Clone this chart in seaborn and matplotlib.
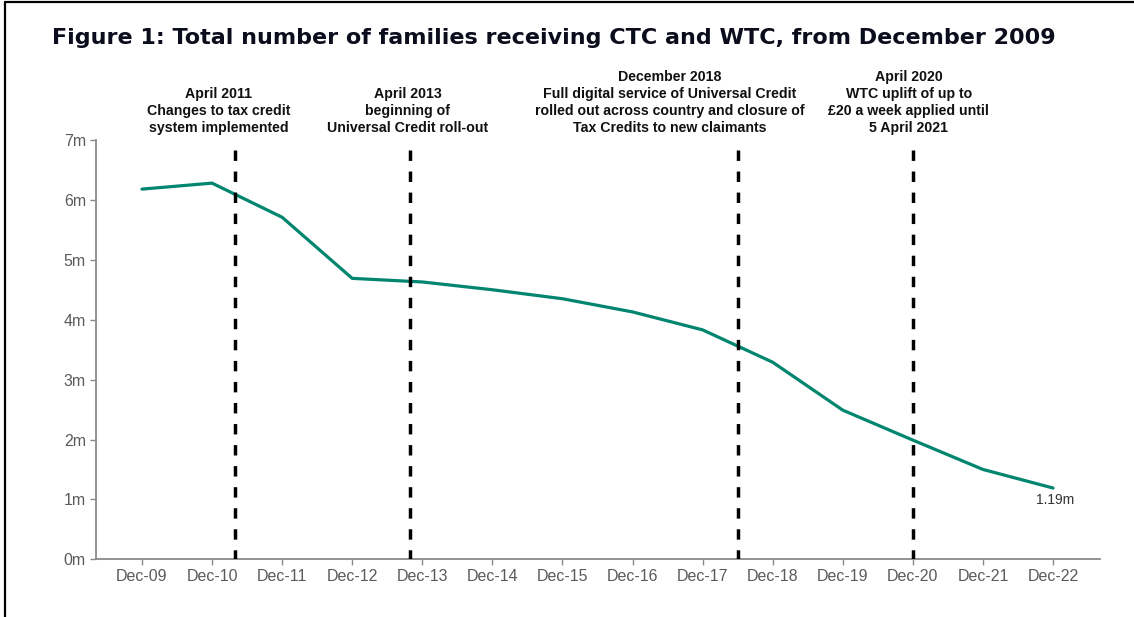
import numpy as np
import pandas as pd
import matplotlib
matplotlib.use("Agg")
import matplotlib.pyplot as plt
import matplotlib.transforms as mtransforms
from matplotlib.lines import Line2D
import seaborn as sns

# ---- data ----
months = ["Dec-09", "Dec-10", "Dec-11", "Dec-12", "Dec-13", "Dec-14", "Dec-15",
          "Dec-16", "Dec-17", "Dec-18", "Dec-19", "Dec-20", "Dec-21", "Dec-22"]
families_m = [6.18, 6.28, 5.71, 4.69, 4.63, 4.50, 4.35,
              4.13, 3.83, 3.29, 2.49, 1.99, 1.50, 1.19]
event_pos = [1.33, 3.83, 8.5, 11.0]
event_texts = [
    "April 2011\nChanges to tax credit\nsystem implemented",
    "April 2013\nbeginning of\nUniversal Credit roll-out",
    "December 2018\nFull digital service of Universal Credit\nrolled out across country and closure of\nTax Credits to new claimants",
    "April 2020\nWTC uplift of up to\n\u00a320 a week applied until\n5 April 2021",
]
y_ticks = [0, 1, 2, 3, 4, 5, 6, 7]
y_tick_labels = ["0m", "1m", "2m", "3m", "4m", "5m", "6m", "7m"]
end_label = "1.19m"
title = "Figure 1: Total number of families receiving CTC and WTC, from December 2009"

# layout: horizontal centre of each annotation block (axis units)
text_centres = [1.09, 3.79, 7.53, 10.94]

df = pd.DataFrame({"pos": np.arange(len(months)), "value": families_m})

sns.set_theme(style="ticks")
plt.rcParams["font.family"] = ["Liberation Sans", "DejaVu Sans"]

fig = plt.figure(figsize=(11.34, 6.17), dpi=100)
ax = fig.add_axes([0.0844, 0.0935, 0.970 - 0.0844, 0.7731 - 0.0935])

teal = "#00856F"
sns.lineplot(data=df, x="pos", y="value", ax=ax, color=teal, linewidth=2.3)

for xp in event_pos:
    ax.vlines(xp, 6.84, 0, colors="black", linewidth=2.5,
              linestyles=(0, (3.0, 3.06)), zorder=3)

trans = mtransforms.blended_transform_factory(ax.transData, ax.transAxes)
for xc, txt in zip(text_centres, event_texts):
    ax.text(xc, 1.012, txt, transform=trans, ha="center", va="bottom",
            fontsize=10.2, fontweight="bold", color="#111111", linespacing=1.27)

ax.text(len(months) - 1 + 0.03, families_m[-1] - 0.08, end_label,
        ha="center", va="top", fontsize=10, color="#333333")

ax.set_xlim(-0.66, 13.67)
ax.set_ylim(0, 7)
ax.set_xticks(np.arange(len(months)))
ax.set_xticklabels(months)
ax.set_yticks(y_ticks)
ax.set_yticklabels(y_tick_labels)
ax.set_xlabel("")
ax.set_ylabel("")

for side in ["top", "right"]:
    ax.spines[side].set_visible(False)
for side in ["left", "bottom"]:
    ax.spines[side].set_color("#8a8a8a")
    ax.spines[side].set_linewidth(1.3)
ax.tick_params(axis="both", colors="#8a8a8a", labelcolor="#5a5a5a",
               labelsize=11.5, length=4, width=1, pad=3)

fig.text(0.046, 0.938, title, ha="left", va="center", fontsize=16.0,
         fontweight="bold", color="#0b0c1c", family=["DejaVu Sans"])

# frame lines (left and top edges)
fig.add_artist(Line2D([0.0045, 0.0045], [0, 0.997], transform=fig.transFigure,
                      color="black", linewidth=1.6))
fig.add_artist(Line2D([0.0045, 1.0], [0.997, 0.997], transform=fig.transFigure,
                      color="black", linewidth=1.6))

fig.savefig("out.png", dpi=100)
